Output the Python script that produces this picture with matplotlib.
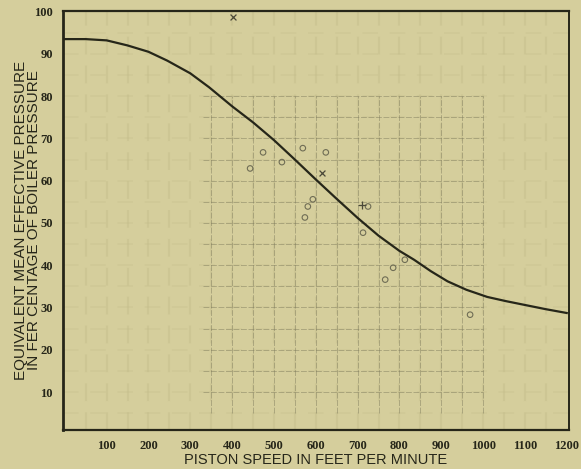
import matplotlib
matplotlib.use("Agg")
import matplotlib.pyplot as plt
import numpy as np

# Mean effective pressure curve (per cent of boiler pressure) vs piston speed
curve_speed = [0, 50, 100, 150, 200, 245, 300, 345, 400, 450, 500, 550, 600, 650,
               700, 750, 800, 835, 875, 915, 960, 1010, 1055, 1105, 1150, 1200]
curve_pct = [93.5, 93.5, 93.2, 92.0, 90.5, 88.4, 85.4, 82.1, 77.6, 73.8, 69.6, 65.0,
             60.3, 55.7, 51.2, 47.0, 43.4, 41.3, 38.6, 36.2, 34.2, 32.5, 31.5, 30.5,
             29.6, 28.7]

# Observed test points
circle_speed = [474, 443, 519, 569, 624, 593, 581, 574, 725, 713, 766, 785, 813, 969]
circle_pct = [66.7, 62.9, 64.4, 67.7, 66.7, 55.6, 53.9, 51.3, 53.9, 47.7, 36.6, 39.4, 41.3, 28.3]
cross_speed = [615, 402]
cross_pct = [61.8, 98.8]
plus_speed = [711]
plus_pct = [54.2]

x_ticks = [100, 200, 300, 400, 500, 600, 700, 800, 900, 1000, 1100, 1200]
y_ticks = [10, 20, 30, 40, 50, 60, 70, 80, 90, 100]

paper = "#d5ce9c"
ink = "#262619"
grid_ink = "#7d7a5c"

fig = plt.figure(figsize=(5.81, 4.69), dpi=100)
fig.patch.set_facecolor(paper)
ax = fig.add_axes([0.108, 0.083, 0.871, 0.894])
ax.set_facecolor(paper)
ax.set_xlim(-5, 1205)
ax.set_ylim(1, 100.2)

# faint background ruling
for gx in np.arange(50, 1200, 50):
    ax.plot([gx, gx], [1, 100], color="#bdb683", lw=1.6, alpha=0.3,
            linestyle=(0, (8, 5)), zorder=1)
for gy in np.arange(5, 100, 5):
    ax.plot([-5, 1205], [gy, gy], color="#c2bb88", lw=1.4, alpha=0.25,
            linestyle=(0, (8, 6)), zorder=1)

# sharper ruling over the middle of the field
for gx in np.arange(350, 1001, 50):
    ax.plot([gx, gx], [5, 80], color=grid_ink, lw=0.6, alpha=0.55,
            linestyle=(0, (7, 2)), zorder=2)
for gy in np.arange(10, 81, 5):
    ax.plot([330, 1000], [gy, gy], color=grid_ink, lw=0.6, alpha=0.55,
            linestyle=(0, (7, 2)), zorder=2)

ax.plot(curve_speed, curve_pct, color=ink, lw=1.6, zorder=4)
ax.scatter(circle_speed, circle_pct, s=16, facecolors="none",
           edgecolors="#6f6d55", linewidths=0.8, zorder=5)
ax.scatter(cross_speed, cross_pct, s=18, marker="x", color="#4a4838",
           linewidths=0.9, zorder=5)
ax.scatter(plus_speed, plus_pct, s=30, marker="+", color="#4a4838",
           linewidths=0.9, zorder=5)

ax.set_xticks(x_ticks)
ax.set_yticks(y_ticks)
ax.set_xticklabels([str(v) for v in x_ticks])
ax.set_yticklabels([str(v) for v in y_ticks])
ax.tick_params(length=0, labelsize=9, colors=ink, pad=7)
for lab in ax.get_xticklabels() + ax.get_yticklabels():
    lab.set_fontfamily("Liberation Serif")
    lab.set_fontweight("bold")

for side, w in [("left", 2.0), ("bottom", 1.6), ("top", 1.6), ("right", 1.4)]:
    ax.spines[side].set_color(ink)
    ax.spines[side].set_linewidth(w)

ax.set_xlabel("PISTON SPEED IN FEET PER MINUTE", fontsize=10.5,
              fontfamily="Liberation Sans", color=ink, labelpad=1)
fig.text(0.0353, 0.53, "EQUIVALENT MEAN EFFECTIVE PRESSURE", rotation=90,
         ha="center", va="center", fontsize=11, fontfamily="Liberation Sans",
         color=ink)
fig.text(0.0577, 0.53, "IN FER CENTAGE OF BOILER PRESSURE", rotation=90,
         ha="center", va="center", fontsize=11, fontfamily="Liberation Sans",
         color=ink)

fig.savefig("out.png", dpi=100, facecolor=paper)
